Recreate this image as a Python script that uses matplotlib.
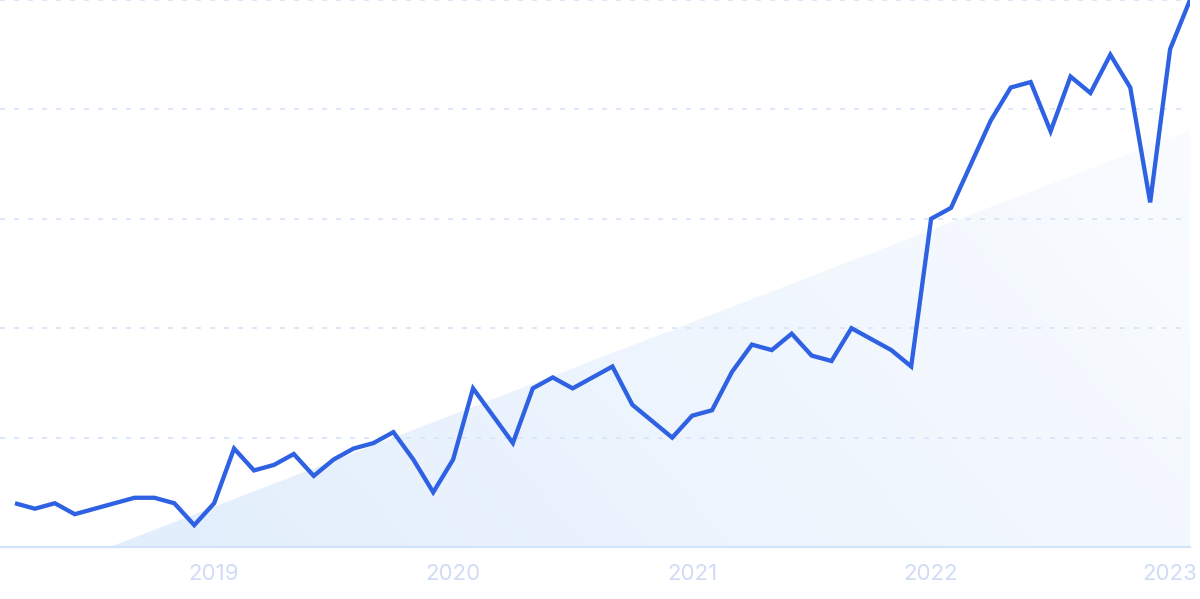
import matplotlib
matplotlib.use("Agg")
import matplotlib.pyplot as plt
import numpy as np
import pandas as pd
from matplotlib.patches import Polygon

# ---- data ----
start_month = "2018-03"
values = [8, 7, 8, 6, 7, 8, 9, 9, 8, 4,
          8, 18, 14, 15, 17, 13, 16, 18, 19, 21,
          16, 10, 16, 29, 24, 19, 29, 31, 29, 31,
          33, 26, 23, 20, 24, 25, 32, 37, 36, 39,
          35, 34, 40, 38, 36, 33, 60, 62, 70, 78,
          84, 85, 76, 86, 83, 90, 84, 63, 91, 100]
year_labels = ["2019", "2020", "2021", "2022", "2023"]
grid_values = [20, 40, 60, 80, 100]
trend_x = [4.77, 59]      # month index of trend start / end
trend_y = [0, 76.2]       # trend value at start / end

dates = pd.period_range(start_month, periods=len(values), freq="M")
idx = np.arange(len(values))
year_pos = [i for i, d in enumerate(dates) if d.month == 1 and str(d.year) in year_labels]

fig = plt.figure(figsize=(12, 5.99), dpi=100)
ax = fig.add_axes([0, 52/599, 1190/1200, 547/599])
ax.set_xlim(-0.753, 59)
ax.set_ylim(0, 100)
for s in ax.spines.values():
    s.set_visible(False)

# gradient-filled trend triangle
tri = Polygon([[trend_x[0], trend_y[0]], [trend_x[1], trend_y[1]], [trend_x[1], 0]],
              closed=True, facecolor="none", edgecolor="none")
ax.add_patch(tri)
gx, gy = np.meshgrid(np.linspace(0, 1, 300), np.linspace(0, 1, 200))
t = np.clip(0.75 * gx + 0.25 * (1 - gy), 0, 1)
c0 = np.array([0xe2, 0xee, 0xfc]) / 255
c1 = np.array([0xfa, 0xfc, 0xff]) / 255
img = c0[None, None, :] * (1 - t[..., None]) + c1[None, None, :] * t[..., None]
im = ax.imshow(img, extent=[trend_x[0], trend_x[1], 0, trend_y[1]], origin="upper",
               aspect="auto", zorder=1, interpolation="bilinear")
im.set_clip_path(tri)

# gridlines
for g in grid_values:
    ax.axhline(g, color="#d6e3fb", lw=1.2, ls=(0, (3.0, 5.4)), zorder=2, clip_on=False)
ax.axhline(0, color="#d3e4fa", lw=1.6, zorder=2, clip_on=False)

ax.plot(idx, values, color="#2e62e3", lw=3.1, zorder=5, solid_joinstyle="miter",
        solid_capstyle="butt", clip_on=True)

ax.set_xticks(year_pos)
ax.set_xticklabels(year_labels, fontsize=16, color="#d0dbf5", fontfamily="Inter")
ax.tick_params(axis="x", length=0, pad=12)
ax.set_yticks([])

fig.savefig("out.png", dpi=100)
